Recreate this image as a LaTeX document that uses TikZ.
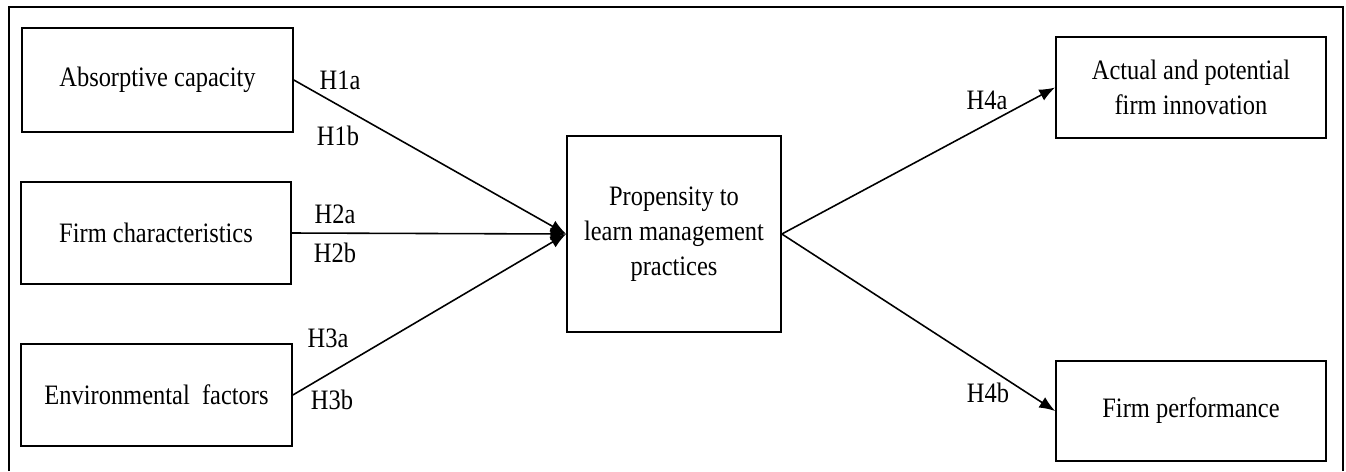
\documentclass[tikz,border=0pt]{standalone}
\usepackage{fontspec}
\setmainfont[FakeStretch=0.87]{Liberation Serif}
\usetikzlibrary{arrows.meta}

\tikzset{
  factor/.style={draw=black, line width=1pt, align=center, inner sep=0pt,
    font=\fontsize{16}{20}\selectfont},
  hyp/.style={-{Latex[length=9pt,width=7pt]}, line width=0.9pt},
  hlabel/.style={inner sep=0pt, font=\fontsize{16}{17}\selectfont}
}

\begin{document}
\begin{tikzpicture}[x=0.02cm, y=-0.02cm]
            \useasboundingbox (0,0) rectangle (1346,471);
            \draw [black, line width=1pt] (9,471) -- (9,7) -- (1343,7) -- (1343,471);
            \node [factor, minimum width=5.42cm, minimum height=2.08cm] (absorb) at (157.5,80) {Absorptive capacity};
            \node [factor, minimum width=5.40cm, minimum height=2.04cm] (firmchar) at (156,233) {Firm characteristics};
            \node [factor, minimum width=5.42cm, minimum height=2.04cm] (environ) at (156.5,395) {Environmental\ \ factors};
            \node [factor, minimum width=4.28cm, minimum height=3.92cm] (propens) at (674,234) {Propensity to\\learn management\\practices};
            \node [factor, minimum width=5.40cm, minimum height=2.02cm] (innov) at (1191,87.5) {Actual and potential\\firm innovation};
            \node [factor, minimum width=5.40cm, minimum height=2.00cm] (perform) at (1191,411) {Firm performance};
            \draw [hyp] (absorb.east) -- (propens.west);
            \draw [hyp] (firmchar.east) -- (propens.west);
            \draw [hyp] (environ.east) -- (propens.west);
            \draw [hyp] (propens.east) -- (innov.west);
            \draw [hyp] (propens.east) -- (perform.west);
            \node [hlabel] (h1a) at (340,80) {H1a};
            \node [hlabel] (h1b) at (338,136) {H1b};
            \node [hlabel] (h2a) at (335,214) {H2a};
            \node [hlabel] (h2b) at (335,253) {H2b};
            \node [hlabel] (h3a) at (328,338) {H3a};
            \node [hlabel] (h3b) at (332,400) {H3b};
            \node [hlabel] (h4a) at (987,100) {H4a};
            \node [hlabel] (h4b) at (988,393) {H4b};
\end{tikzpicture}
\end{document}
